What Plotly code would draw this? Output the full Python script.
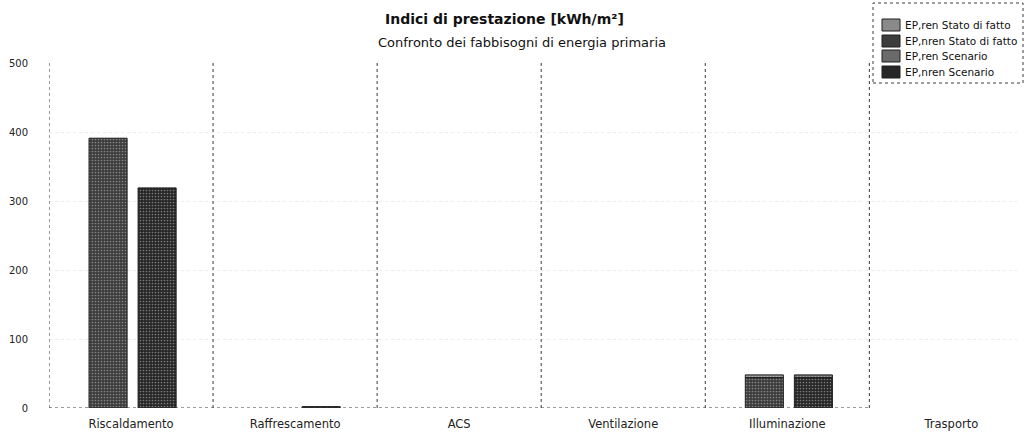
import plotly.graph_objects as go

# Categories on the x axis
categorie = ["Riscaldamento", "Raffrescamento", "ACS", "Ventilazione", "Illuminazione", "Trasporto"]

# Primary energy indices [kWh/m²] per service
ep_ren_stato = [0, 0, 0, 0, 4, 0]
ep_nren_stato = [391, 0, 0, 0, 44, 0]
ep_ren_scenario = [0, 0, 0, 0, 4, 0]
ep_nren_scenario = [319, 2, 0, 0, 44, 0]

y_ticks = [0, 100, 200, 300, 400, 500]

FONT = "DejaVu Sans"
W, H = 1025, 437
L, R, T, B = 49, 8, 63, 29
PW, PH = W - L - R, H - T - B


def px_x(px):
    return (px - L) / PW


def px_y(py):
    return (H - B - py) / PH


def nz(values):
    # empty slots instead of zero-height bars
    return [v if v else None for v in values]


fig = go.Figure()

series = [
    # name, values, base, offset, fill colour
    ("EP,ren Stato di fatto", ep_ren_stato, ep_nren_stato, -0.256, "#8a8a8a"),
    ("EP,nren Stato di fatto", ep_nren_stato, [0] * 6, -0.256, "#3c3c3c"),
    ("EP,ren Scenario", ep_ren_scenario, ep_nren_scenario, 0.043, "#6a6a6a"),
    ("EP,nren Scenario", ep_nren_scenario, [0] * 6, 0.043, "#262626"),
]

for name, values, base, offset, bg in series:
    fig.add_trace(go.Bar(
        x=categorie, y=nz(values), base=base, name=name,
        offset=offset, width=0.232, showlegend=False,
        marker=dict(
            color=bg,
            line=dict(color="#1e1e1e", width=1),
            pattern=dict(shape=".", fgcolor="#d0d0d0", bgcolor=bg, size=3, solidity=0.25),
        ),
    ))

shapes = []
# dotted category separators and left axis
for k in range(0, 6):
    shapes.append(dict(type="line", xref="x", yref="y", x0=k - 0.5, x1=k - 0.5, y0=0, y1=500,
                       line=dict(color="#3a3a3a", width=1, dash="dot")))
# dotted baseline
shapes.append(dict(type="line", xref="x", yref="y", x0=-0.5, x1=4.5, y0=0, y1=0,
                   line=dict(color="#3a3a3a", width=1, dash="dot")))

annotations = [
    dict(text="<b>Indici di prestazione [kWh/m²]</b>", xref="paper", yref="paper",
         x=px_x(504), y=px_y(19), showarrow=False,
         xanchor="center", yanchor="middle", font=dict(family=FONT, size=14, color="#111")),
    dict(text="Confronto dei fabbisogni di energia primaria", xref="paper", yref="paper",
         x=px_x(522), y=px_y(43), showarrow=False,
         xanchor="center", yanchor="middle", font=dict(family=FONT, size=13, color="#111")),
]

# legend frame, swatches and labels
lx0, lx1, ly0, ly1 = 873, 1023, 3, 83
shapes.append(dict(type="rect", xref="paper", yref="paper",
                   x0=px_x(lx0), x1=px_x(lx1), y0=px_y(ly1), y1=px_y(ly0),
                   line=dict(color="#3a3a3a", width=1, dash="dot"), fillcolor="rgba(0,0,0,0)"))
row_y = [25, 41, 56, 72]
for (name, _, _, _, bg), ry in zip(series, row_y):
    shapes.append(dict(type="rect", xref="paper", yref="paper",
                       x0=px_x(882), x1=px_x(900), y0=px_y(ry + 6), y1=px_y(ry - 6),
                       line=dict(color="#1e1e1e", width=1), fillcolor=bg))
    annotations.append(dict(text=name, xref="paper", yref="paper", x=px_x(903), y=px_y(ry),
                            showarrow=False, xanchor="left", yanchor="middle",
                            font=dict(family=FONT, size=10.5, color="#111")))

fig.update_layout(
    width=W, height=H,
    margin=dict(l=L, r=R, t=T, b=B, autoexpand=False),
    paper_bgcolor="white", plot_bgcolor="white",
    barmode="overlay",
    font=dict(family=FONT, color="#222"),
    showlegend=False,
    shapes=shapes,
    annotations=annotations,
    xaxis=dict(
        type="category", range=[-0.5, 5.4], showgrid=False, zeroline=False, showline=False,
        ticks="", tickfont=dict(family=FONT, size=11.5, color="#222"), ticklabelstandoff=7,
    ),
    yaxis=dict(
        range=[0, 500], tickvals=y_ticks, showgrid=True, gridcolor="#ececec", griddash="dot",
        zeroline=False, showline=False, ticks="",
        tickfont=dict(family=FONT, size=10, color="#222"), ticklabelstandoff=20,
    ),
)

fig.write_html("out.html")
